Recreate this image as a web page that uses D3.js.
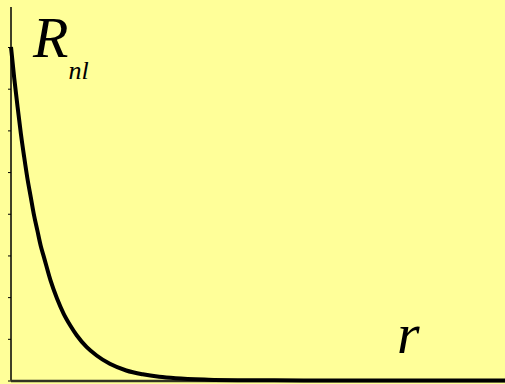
<!DOCTYPE html>
<html>
<head>
<meta charset="utf-8">
<script src="https://cdn.jsdelivr.net/npm/d3@7"></script>
<style>
  html, body { margin: 0; padding: 0; background: #ffff99; }
  svg#chart { display: block; }
  svg#chart text.math, svg#chart text.math tspan {
    font-family: "Liberation Serif", "Times New Roman", "DejaVu Serif", serif !important;
    font-style: italic !important;
  }
</style>
</head>
<body>
<svg id="chart" width="505" height="384"></svg>
<script>
// Radial function samples: r (distance) and R_nl(r)
const rValues = [0, 0.1, 0.2, 0.3, 0.4, 0.5, 0.6, 0.7, 0.8, 0.9, 1.0, 1.2, 1.4, 1.6, 1.8, 2.0, 2.3, 2.6, 3.0, 3.5, 4.0, 4.5, 5, 6, 7, 8, 10, 12, 15];
const RValues = [2.0, 1.81, 1.64, 1.48, 1.34, 1.21, 1.10, 0.99, 0.90, 0.81, 0.74, 0.60, 0.49, 0.40, 0.33, 0.27, 0.20, 0.15, 0.10, 0.06, 0.037, 0.022, 0.013, 0.005, 0.002, 0.001, 0, 0, 0];
const yTicks = [0, 0.25, 0.5, 0.75, 1, 1.25, 1.5, 1.75, 2];

const svg = d3.select("#chart");
const W = 505, H = 384;
const margin = { left: 11, right: 0, top: 7, bottom: 2 };

svg.append("rect").attr("width", W).attr("height", H).attr("fill", "#ffff99");

const x = d3.scaleLinear().domain([0, 15]).range([margin.left, W - margin.right]);
const y = d3.scaleLinear().domain([0, 2]).range([H - margin.bottom - 1.5, 47]);

// Vertical axis with short outward ticks
const yAxis = d3.axisLeft(y).tickValues(yTicks).tickSize(3).tickFormat("");
const gy = svg.append("g").attr("transform", `translate(${margin.left},0)`).call(yAxis);
gy.select(".domain").remove();
gy.selectAll(".tick line").attr("stroke", "#000").attr("stroke-width", 1);
svg.append("line")
  .attr("x1", margin.left).attr("x2", margin.left)
  .attr("y1", margin.top).attr("y2", y(0))
  .attr("stroke", "#000").attr("stroke-width", 1.5);

// Horizontal axis
svg.append("line")
  .attr("x1", margin.left).attr("x2", W)
  .attr("y1", y(0) + 0.5).attr("y2", y(0) + 0.5)
  .attr("stroke", "#333322").attr("stroke-width", 2.5);

// Curve
const line = d3.line()
  .x((d, i) => x(rValues[i]))
  .y(d => y(d))
  .curve(d3.curveMonotoneX);
svg.append("path")
  .datum(RValues)
  .attr("d", line)
  .attr("fill", "none")
  .attr("stroke", "#000")
  .attr("stroke-width", 4)
  .attr("stroke-linejoin", "round");

// Labels in serif italic, as in math notation
const lab = svg.append("text")
  .attr("class", "math")
  .attr("x", 33).attr("y", 57)
  .attr("font-size", 58).attr("fill", "#000");
lab.append("tspan").text("R");
lab.append("tspan").attr("font-size", 26).attr("dy", 22).text("nl");

svg.append("text")
  .attr("class", "math")
  .attr("x", 397).attr("y", 353)
  .attr("font-size", 58).attr("fill", "#000")
  .text("r");
</script>
</body>
</html>
